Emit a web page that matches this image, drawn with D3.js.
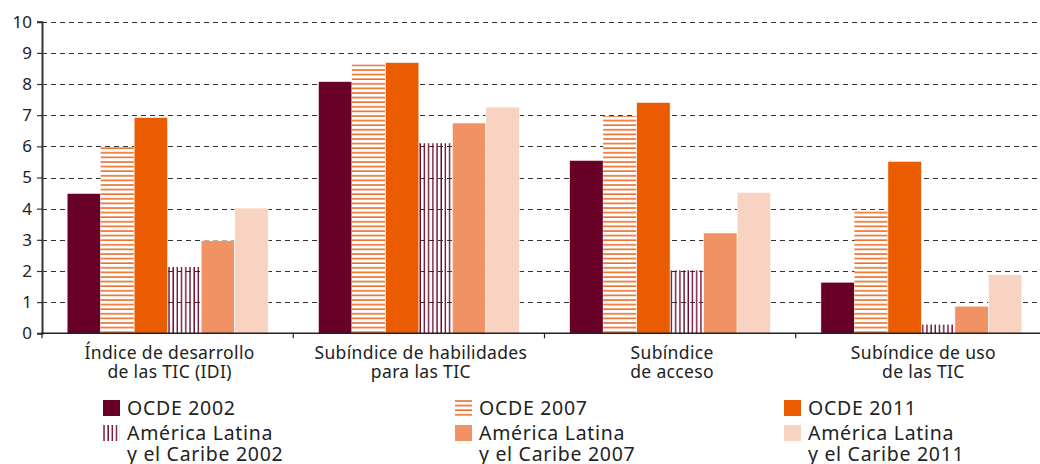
<!DOCTYPE html>
<html>
<head>
<meta charset="utf-8">
<script src="https://cdn.jsdelivr.net/npm/d3@7/dist/d3.min.js"></script>
<style>
  html, body { margin: 0; padding: 0; background: #fff; }
  svg { display: block; font-family: "Noto Sans", "Open Sans", sans-serif; }
</style>
</head>
<body>
<svg id="chart" width="1040" height="464"></svg>
<script>
// Categories (two-line labels) and series
const categories = [
  ["Índice de desarrollo", "de las TIC (IDI)"],
  ["Subíndice de habilidades", "para las TIC"],
  ["Subíndice", "de acceso"],
  ["Subíndice de uso", "de las TIC"]
];
const seriesNames = [
  "OCDE 2002", "OCDE 2007", "OCDE 2011",
  ["América Latina", "y el Caribe 2002"],
  ["América Latina", "y el Caribe 2007"],
  ["América Latina", "y el Caribe 2011"]
];
const ocde2002 = [4.49, 8.08, 5.55, 1.64];
const ocde2007 = [5.98, 8.63, 6.97, 3.92];
const ocde2011 = [6.93, 8.69, 7.41, 5.52];
const alc2002  = [2.13, 6.10, 2.02, 0.28];
const alc2007  = [2.97, 6.75, 3.22, 0.87];
const alc2011  = [4.02, 7.26, 4.52, 1.88];
const yTicks = [0, 1, 2, 3, 4, 5, 6, 7, 8, 9, 10];

const seriesValues = [ocde2002, ocde2007, ocde2011, alc2002, alc2007, alc2011];
const seriesFill = [
  "#690027", "url(#hstripe)", "#eb5c00",
  "url(#vstripe)", "#f09263", "#f8d3c1"
];

const svg = d3.select("#chart");
const margin = { left: 42, top: 21.7, bottom: 333.3 };
const plotRight = 1047;

// Patterns
const defs = svg.append("defs");
const hp = defs.append("pattern")
  .attr("id", "hstripe").attr("patternUnits", "userSpaceOnUse")
  .attr("width", 10).attr("height", 4.6);
hp.append("rect").attr("width", 10).attr("height", 4.6).attr("fill", "#fff");
hp.append("line").attr("x1", 0).attr("x2", 10).attr("y1", 1).attr("y2", 1)
  .attr("stroke", "#ec6419").attr("stroke-width", 1.5);

const vp = defs.append("pattern")
  .attr("id", "vstripe").attr("patternUnits", "userSpaceOnUse")
  .attr("width", 4.2).attr("height", 10);
vp.append("line").attr("x1", 1).attr("x2", 1).attr("y1", 0).attr("y2", 10)
  .attr("stroke", "#6d0a30").attr("stroke-width", 1.4);

// Scales
const y = d3.scaleLinear().domain([0, 10]).range([margin.bottom, margin.top]);
const x0 = d3.scaleBand().domain(d3.range(categories.length))
  .range([margin.left, plotRight]).padding(0);
const x1 = d3.scaleBand().domain(d3.range(seriesValues.length))
  .range([0, x0.bandwidth()]).paddingInner(0).paddingOuter(0.75);

// Dashed gridlines
svg.append("g").selectAll("line")
  .data(yTicks.filter(d => d > 0))
  .join("line")
  .attr("x1", margin.left).attr("x2", 1040)
  .attr("y1", d => Math.round(y(d)) + 0.5).attr("y2", d => Math.round(y(d)) + 0.5)
  .attr("stroke", "#333").attr("stroke-width", 1)
  .attr("stroke-dasharray", "5,4");

// Bars
const groups = svg.append("g").selectAll("g")
  .data(categories.map((c, i) => i))
  .join("g")
  .attr("transform", i => `translate(${x0(i)},0)`);

groups.selectAll("rect")
  .data(i => seriesValues.map((vals, s) => ({ s, v: vals[i] })))
  .join("rect")
  .attr("x", d => x1(d.s))
  .attr("width", x1.bandwidth())
  .attr("y", d => y(d.v))
  .attr("height", d => y(0) - y(d.v))
  .attr("fill", d => seriesFill[d.s])
  .attr("stroke", d => (d.s === 1 || d.s === 3) ? "none" : "#fff")
  .attr("stroke-width", 0.6);

// Y axis
const yAxis = d3.axisLeft(y).tickValues(yTicks).tickSize(5).tickPadding(5);
const gy = svg.append("g").attr("transform", `translate(${margin.left},0)`).call(yAxis);
gy.select(".domain").attr("stroke", "#333").attr("stroke-width", 2);
gy.selectAll(".tick line").attr("stroke", "#333").attr("stroke-width", 1.2);
gy.selectAll(".tick text").attr("font-size", 17).attr("fill", "#222")
  .attr("font-family", "'Noto Sans', sans-serif");

// X axis baseline and band separators
const gx = svg.append("g");
gx.append("line")
  .attr("x1", margin.left - 1).attr("x2", 1040)
  .attr("y1", y(0)).attr("y2", y(0))
  .attr("stroke", "#222").attr("stroke-width", 1.6);
gx.selectAll(".sep")
  .data(d3.range(categories.length))
  .join("line")
  .attr("class", "sep")
  .attr("x1", i => x0(i)).attr("x2", i => x0(i))
  .attr("y1", y(0)).attr("y2", y(0) + 5)
  .attr("stroke", "#222").attr("stroke-width", 1.2);

// Category labels
gx.selectAll("text")
  .data(categories)
  .join("text")
  .attr("x", (c, i) => x0(i) + x0.bandwidth() / 2 + 2)
  .attr("y", 358.5)
  .attr("text-anchor", "middle")
  .attr("font-size", 17.5)
  .attr("letter-spacing", 0.35)
  .attr("fill", "#222")
  .selectAll("tspan")
  .data(c => c)
  .join("tspan")
  .attr("x", function () { return d3.select(this.parentNode).attr("x"); })
  .attr("dy", (d, k) => k === 0 ? 0 : 19)
  .text(d => d);

// Legend: three columns, two rows
const legendCols = [103, 455, 784];
const legendRows = [400, 425];
const legend = svg.append("g");
seriesNames.forEach((name, s) => {
  const col = s % 3, row = Math.floor(s / 3);
  const lx = legendCols[col], ly = legendRows[row];
  const item = legend.append("g").attr("transform", `translate(${lx},${ly})`);
  item.append("rect")
    .attr("width", 17).attr("height", 16)
    .attr("fill", seriesFill[s]);
  const lines = Array.isArray(name) ? name : [name];
  const t = item.append("text")
    .attr("x", 24).attr("y", 14.5)
    .attr("font-size", 19.5).attr("letter-spacing", 0.7).attr("fill", "#222");
  lines.forEach((ln, k) => {
    t.append("tspan").attr("x", 24).attr("dy", k === 0 ? 0 : 21).text(ln);
  });
});
</script>
</body>
</html>
